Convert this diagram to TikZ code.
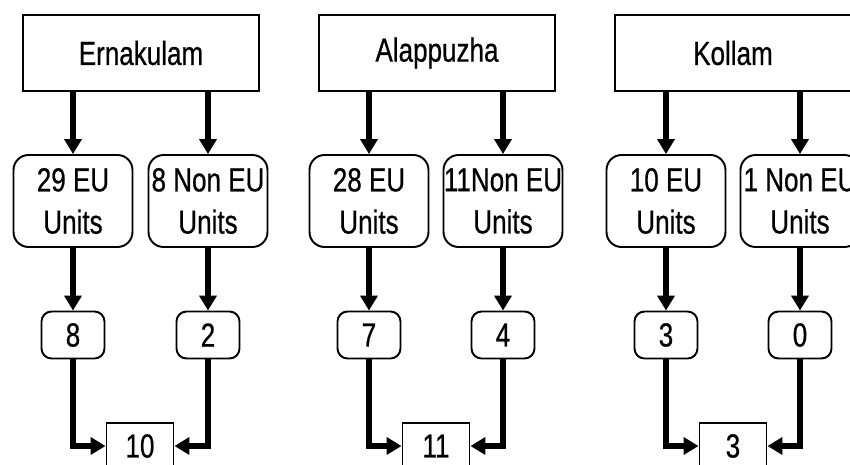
\documentclass[tikz,border=0pt]{standalone}
\usepackage{fontspec}
\setmainfont[FakeStretch=0.78, FakeBold=0.6]{Liberation Sans}
\usepackage{tikz}
\usetikzlibrary{positioning, arrows.meta}
\tikzset{
    base/.style={
        font=\fontsize{19}{24}\selectfont,
        align=center,
        text=black
    },
    district/.style={
        base,
        rectangle,
        draw,
        line width=1.1pt,
        minimum width=4.72cm,
        minimum height=1.52cm
    },
    unitbox/.style={
        base,
        rectangle,
        rounded corners=3mm,
        draw,
        line width=1.1pt,
        inner sep=0pt,
        minimum width=2.38cm,
        minimum height=1.84cm
    },
    count/.style={
        base,
        rectangle,
        rounded corners=2mm,
        draw,
        line width=1.1pt,
        minimum width=1.26cm,
        minimum height=0.94cm
    },
    total/.style={
        base,
        rectangle,
        draw,
        line width=1.1pt,
        minimum width=1.34cm,
        minimum height=0.92cm
    },
    flow/.style={
        -{Triangle[width=0.34cm, length=0.3cm]},
        line width=3.8pt
    }
}

\begin{document}
\begin{tikzpicture}[x=0.02cm, y=-0.02cm]
  \useasboundingbox (0,0) rectangle (850,464);
  \clip (0,0) rectangle (850,464);

  % Ernakulam
  \node[district] (ern) at (141,53) {Ernakulam};
  \node[unitbox] (ernEU) at (73,201) {29 EU\\Units};
  \node[unitbox] (ernNEU) at (208,201) {8 Non EU\\Units};
  \node[count] (ernA) at (73,335) {8};
  \node[count] (ernB) at (208,335) {2};
  \node[total] (ernT) at (140,446) {10};

  \draw[flow] (ern.south -| ernEU.north) -- (ernEU.north);
  \draw[flow] (ern.south -| ernNEU.north) -- (ernNEU.north);
  \draw[flow] (ernEU) -- (ernA);
  \draw[flow] (ernNEU) -- (ernB);
  \draw[flow] (ernA.south) |- (ernT.west);
  \draw[flow] (ernB.south) |- (ernT.east);

  % Alappuzha
  \node[district] (alp) at (437,53) {Alappuzha};
  \node[unitbox] (alpEU) at (369,201) {28 EU\\Units};
  \node[unitbox] (alpNEU) at (503,201) {11Non EU\\Units};
  \node[count] (alpA) at (369,335) {7};
  \node[count] (alpB) at (503,335) {4};
  \node[total] (alpT) at (436,446) {11};

  \draw[flow] (alp.south -| alpEU.north) -- (alpEU.north);
  \draw[flow] (alp.south -| alpNEU.north) -- (alpNEU.north);
  \draw[flow] (alpEU) -- (alpA);
  \draw[flow] (alpNEU) -- (alpB);
  \draw[flow] (alpA.south) |- (alpT.west);
  \draw[flow] (alpB.south) |- (alpT.east);

  % Kollam
  \node[district] (kol) at (733,53) {Kollam};
  \node[unitbox] (kolEU) at (666,201) {10 EU\\Units};
  \node[unitbox] (kolNEU) at (800,201) {1 Non EU\\Units};
  \node[count] (kolA) at (666,335) {3};
  \node[count] (kolB) at (800,335) {0};
  \node[total] (kolT) at (733,446) {3};

  \draw[flow] (kol.south -| kolEU.north) -- (kolEU.north);
  \draw[flow] (kol.south -| kolNEU.north) -- (kolNEU.north);
  \draw[flow] (kolEU) -- (kolA);
  \draw[flow] (kolNEU) -- (kolB);
  \draw[flow] (kolA.south) |- (kolT.west);
  \draw[flow] (kolB.south) |- (kolT.east);
\end{tikzpicture}
\end{document}
